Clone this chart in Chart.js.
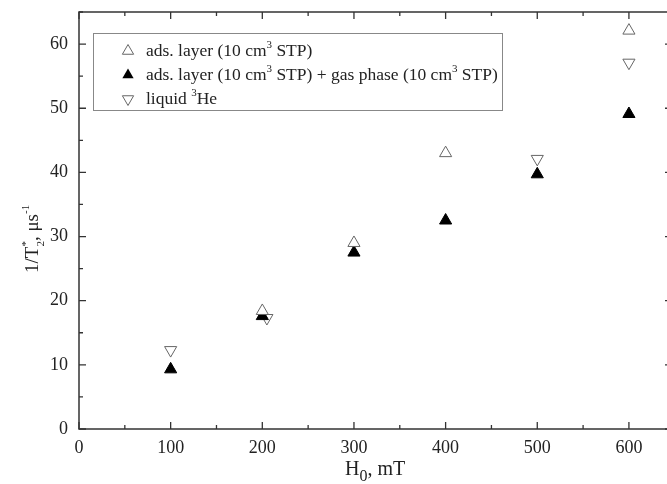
<!DOCTYPE html>
<html>
<head>
<meta charset="utf-8">
<script src="https://cdn.jsdelivr.net/npm/chart.js@4.4.1/dist/chart.umd.min.js"></script>
<style>
  html, body { margin: 0; padding: 0; background: #fff; overflow: hidden; }
  #wrap { position: relative; width: 680px; height: 484px; }
</style>
</head>
<body>
<div id="wrap"><canvas id="myChart"></canvas></div>
<script>
// data
const adsX = [200, 300, 400, 600];
const adsY = [18.4, 29.0, 43.0, 62.1];
const gasX = [100, 200, 300, 400, 500, 600];
const gasY = [9.3, 17.6, 27.5, 32.5, 39.7, 49.1];
const liqX = [100, 205, 500, 600];
const liqY = [12.3, 17.3, 42.1, 57.1];
const xTicks = [0, 100, 200, 300, 400, 500, 600];
const yTicks = [0, 10, 20, 30, 40, 50, 60];

const serif = '"Liberation Serif", "Times New Roman", serif';

function pts(xs, ys) {
    return xs.map((x, i) => ({x: x, y: ys[i]}));
}

// draws text made of pieces: [text, 'n' | 'sup' | 'sub' | 'supstay', scale]
function richText(ctx, parts, x, y, size) {
    let cx = x;
    for (const [t, kind, k] of parts) {
        if (kind === 'n') {
            ctx.font = size + 'px ' + serif;
            ctx.fillText(t, cx, y);
            cx += ctx.measureText(t).width;
        } else {
            const s = Math.round(size * (k || 0.6));
            ctx.font = s + 'px ' + serif;
            const dy = (kind === 'sub') ? size * 0.3 : -size * 0.45;
            ctx.fillText(t, cx, y + dy);
            if (kind !== 'supstay') cx += ctx.measureText(t).width;
        }
    }
}

function tri(ctx, x, y, r, down, filled) {
    const d = down ? -1 : 1;
    ctx.beginPath();
    ctx.moveTo(x, y - d * r);
    ctx.lineTo(x + r * 0.866, y + d * r * 0.5);
    ctx.lineTo(x - r * 0.866, y + d * r * 0.5);
    ctx.closePath();
    if (filled) { ctx.fillStyle = '#000'; ctx.fill(); }
    else { ctx.fillStyle = '#fff'; ctx.fill(); ctx.strokeStyle = '#666'; ctx.lineWidth = 1; ctx.stroke(); }
}

const frame = {
    id: 'frame',
    afterDraw(chart) {
        const ctx = chart.ctx;
        const a = chart.chartArea;
        const xs = chart.scales.x, ys = chart.scales.y;
        ctx.save();
        ctx.strokeStyle = '#333';
        ctx.lineWidth = 1.5;
        ctx.strokeRect(a.left, a.top, a.right - a.left, a.bottom - a.top);
        ctx.lineWidth = 1.3;
        ctx.beginPath();
        for (let v = 0; v <= xs.max; v += 50) {
            const px = xs.getPixelForValue(v);
            const len = (v % 100 === 0) ? 7 : 4;
            ctx.moveTo(px, a.bottom); ctx.lineTo(px, a.bottom - len);
            ctx.moveTo(px, a.top); ctx.lineTo(px, a.top + len);
        }
        for (let v = 0; v <= ys.max; v += 5) {
            const py = ys.getPixelForValue(v);
            const len = (v % 10 === 0) ? 7 : 4;
            ctx.moveTo(a.left, py); ctx.lineTo(a.left + len, py);
            ctx.moveTo(a.right, py); ctx.lineTo(a.right - len, py);
        }
        ctx.stroke();

        // legend
        ctx.strokeStyle = '#888';
        ctx.lineWidth = 1;
        ctx.strokeRect(93.5, 33.5, 409, 77);
        ctx.textBaseline = 'alphabetic';
        const rows = [
            [[['ads. layer (10 cm', 'n'], ['3', 'sup'], [' STP)', 'n']], false, false],
            [[['ads. layer (10 cm', 'n'], ['3', 'sup'], [' STP) + gas phase (10 cm', 'n'], ['3', 'sup'], [' STP)', 'n']], false, true],
            [[['liquid ', 'n'], ['3', 'sup'], ['He', 'n']], true, false]
        ];
        rows.forEach((r, i) => {
            const yy = 51 + i * 24;
            tri(ctx, 128, yy, 6.5, r[1], r[2]);
            ctx.fillStyle = '#222';
            richText(ctx, r[0], 146, yy + 5, 17.5);
        });

        // axis titles
        ctx.fillStyle = '#222';
        richText(ctx, [['H', 'n'], ['0', 'sub', 0.8], [', mT', 'n']], 345, 475, 20);
        ctx.translate(38, 273);
        ctx.rotate(-Math.PI / 2);
        richText(ctx, [['1/T', 'n'], ['*', 'supstay'], ['2', 'sub'], [', \u03bcs', 'n'], ['-1', 'sup']], 0, 0, 19);
        ctx.restore();
    }
};

const data = {
    datasets: [
        {
            label: 'ads. layer (10 cm3 STP)',
            data: pts(adsX, adsY),
            pointStyle: 'triangle',
            pointRadius: 7,
            backgroundColor: '#fff',
            borderColor: '#666',
            borderWidth: 1
        },
        {
            label: 'ads. layer (10 cm3 STP) + gas phase (10 cm3 STP)',
            data: pts(gasX, gasY),
            pointStyle: 'triangle',
            pointRadius: 7,
            backgroundColor: '#000',
            borderColor: '#000',
            borderWidth: 1
        },
        {
            label: 'liquid 3He',
            data: pts(liqX, liqY),
            pointStyle: 'triangle',
            rotation: 180,
            pointRadius: 7,
            backgroundColor: '#fff',
            borderColor: '#666',
            borderWidth: 1
        }
    ]
};

const config = {
    type: 'scatter',
    data: data,
    options: {
        responsive: true,
        maintainAspectRatio: false,
        animation: false,
        layout: {padding: {left: 0, top: 12, right: 2, bottom: 0}},
        plugins: {legend: {display: false}, tooltip: {enabled: false}},
        scales: {
            x: {
                min: 0, max: 647,
                grid: {display: false, drawTicks: false},
                border: {display: false},
                afterBuildTicks: s => { s.ticks = xTicks.map(v => ({value: v})); },
                afterFit: s => { s.height = 55; s.paddingLeft = 0; s.paddingRight = 0; },
                ticks: {color: '#222', padding: 8, font: {family: serif, size: 18}}
            },
            y: {
                min: 0, max: 65,
                grid: {display: false, drawTicks: false},
                border: {display: false},
                afterBuildTicks: s => { s.ticks = yTicks.map(v => ({value: v})); },
                afterFit: s => { s.width = 79; s.paddingTop = 0; s.paddingBottom = 0; },
                ticks: {color: '#222', padding: 11, font: {family: serif, size: 18}}
            }
        }
    },
    plugins: [frame]
};

const myChart = new Chart(document.getElementById('myChart'), config);
</script>
</body>
</html>
